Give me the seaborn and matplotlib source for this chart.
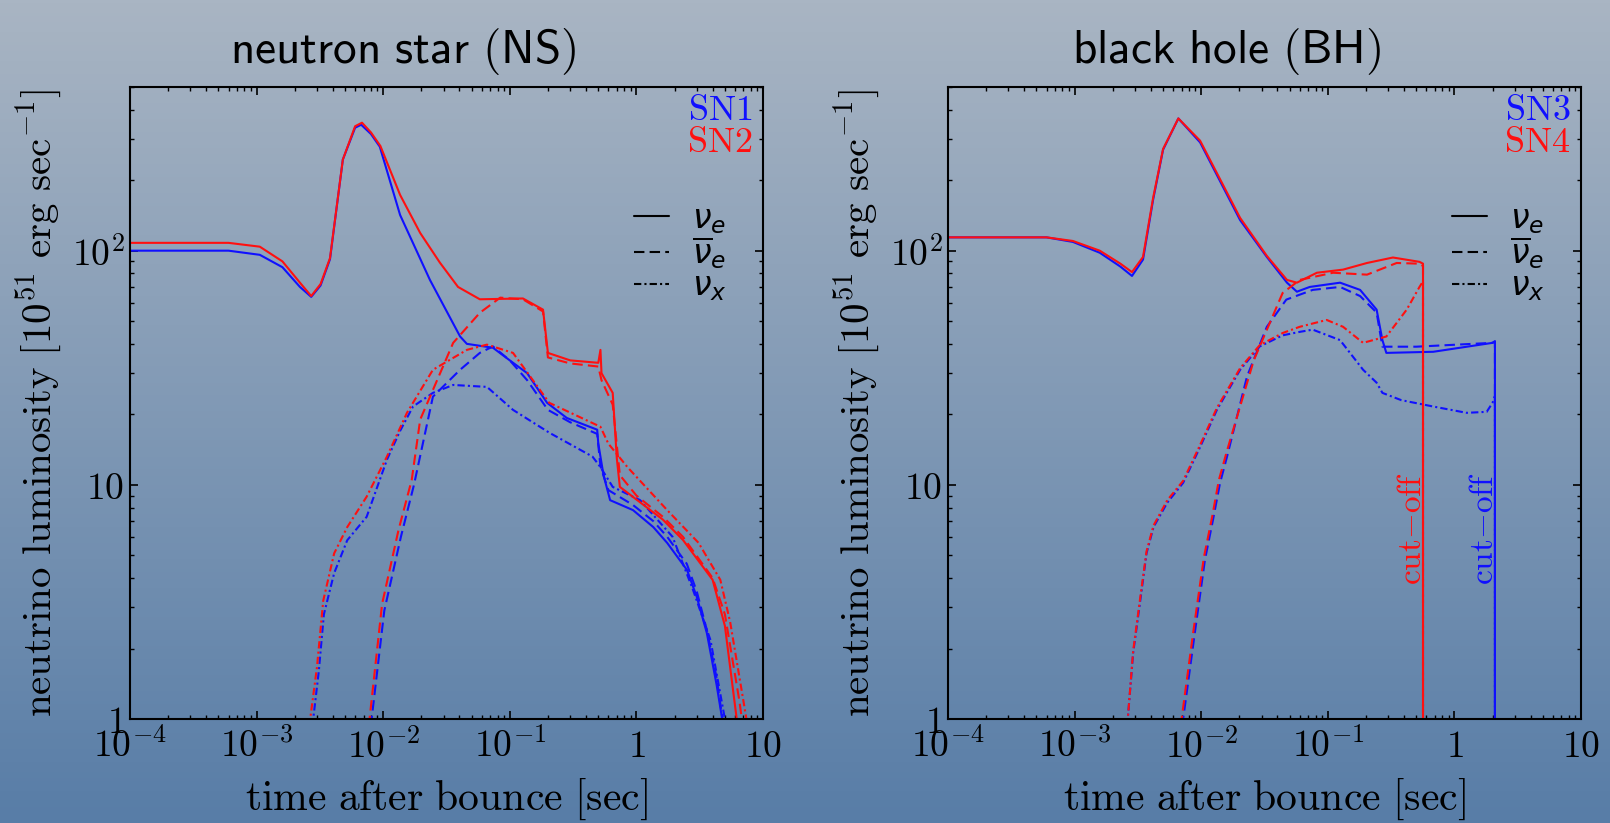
import numpy as np
import pandas as pd
import matplotlib
matplotlib.use("Agg")
import matplotlib.pyplot as plt
from matplotlib.lines import Line2D
from matplotlib.ticker import FixedLocator, FixedFormatter, LogLocator, NullFormatter
import seaborn as sns

# ---------------- neutron star (NS) : SN1 (blue), SN2 (red) ----------------
ns_sn1_nue_t = [1e-4, 6e-4, 1.06e-3, 1.6e-3, 2.2e-3, 2.7e-3, 3.2e-3, 3.8e-3, 4.8e-3, 6e-3, 6.7e-3,
                8e-3, 9.4e-3, 0.0136, 0.0234, 0.0405, 0.0458, 0.0736, 0.1, 0.137, 0.197, 0.282,
                0.49, 0.5, 0.55, 0.62, 0.94, 1.36, 1.75, 2.51, 3.0, 3.6, 4.3, 5.0]
ns_sn1_nue_L = [100, 100, 96, 85, 70, 63.5, 71, 92, 245, 335, 345,
                315, 278, 142, 75, 43, 40, 38.5, 34, 30, 22.4, 19.3,
                17.2, 15, 11, 8.6, 7.8, 6.6, 5.65, 4.33, 3.32, 2.33, 1.4, 0.85]

ns_sn1_anue_t = [7.9e-3, 8.1e-3, 0.0102, 0.0138, 0.0175, 0.0247, 0.0405, 0.058, 0.0736, 0.1,
                 0.137, 0.2, 0.3, 0.49, 0.52, 0.6, 0.94, 1.36, 1.75, 2.5, 3.0, 3.6, 4.3, 5.0]
ns_sn1_anue_L = [0.8, 1.0, 2.9, 6.0, 10.0, 23.8, 31, 36.6, 39, 34,
                 28, 20.9, 18.5, 16.5, 12, 9.5, 8.2, 7.0, 6.0, 4.6, 3.5, 2.4, 1.5, 0.85]

ns_sn1_nux_t = [2.75e-3, 2.8e-3, 3.1e-3, 3.4e-3, 4.1e-3, 5.2e-3, 7.4e-3, 0.0107, 0.0136, 0.0172,
                0.0247, 0.0357, 0.066, 0.106, 0.205, 0.45, 0.52, 0.65, 1.07, 1.93, 2.8, 3.85,
                5.0, 5.2]
ns_sn1_nux_L = [0.8, 1.0, 1.6, 2.8, 4.2, 5.8, 7.3, 12.8, 17.0, 21.6,
                24.7, 26.7, 26.2, 20.9, 16.7, 13.2, 11.9, 9.8, 8.6, 6.0, 3.56, 2.17,
                1.0, 0.8]

ns_sn2_nue_t = [1e-4, 6e-4, 1.06e-3, 1.6e-3, 2.2e-3, 2.7e-3, 3.2e-3, 3.8e-3, 4.8e-3, 6e-3, 6.8e-3,
                8e-3, 9.5e-3, 0.0136, 0.0196, 0.028, 0.039, 0.058, 0.127, 0.183, 0.2, 0.3, 0.5,
                0.52, 0.53, 0.65, 0.7, 0.74, 1.62, 2.33, 4.0, 5.0, 6.2, 6.5]
ns_sn2_nue_L = [108, 108, 104, 90, 73, 64, 72, 93, 245, 340, 352,
                320, 280, 173, 119, 89, 70, 62, 62.5, 56, 36.6, 34, 33.2,
                37.7, 30, 24.7, 13, 9.8, 7.1, 5.82, 3.93, 2.5, 1.0, 0.8]

ns_sn2_anue_t = [7.6e-3, 7.8e-3, 9.8e-3, 0.0132, 0.0168, 0.0196, 0.0357, 0.058, 0.084, 0.127,
                 0.183, 0.2, 0.3, 0.5, 0.53, 0.65, 0.74, 1.0, 1.62, 2.33, 4.0, 5.0, 6.5, 7.2]
ns_sn2_anue_L = [0.8, 1.0, 3.1, 6.4, 10.5, 19, 40.4, 54.3, 63, 62,
                 55, 35, 33, 32, 28, 22, 11, 9.0, 7.3, 6.0, 4.0, 2.8, 1.2, 0.8]

ns_sn2_nux_t = [2.6e-3, 2.65e-3, 3.0e-3, 3.36e-3, 4.1e-3, 5.2e-3, 7.4e-3, 0.0107, 0.0154, 0.0247,
                0.0458, 0.066, 0.106, 0.152, 0.205, 0.52, 0.6, 0.85, 1.75, 3.1, 4.6, 5.5, 7.4, 7.8]
ns_sn2_nux_L = [0.8, 1.0, 1.67, 3.2, 5.1, 6.6, 8.9, 13.2, 20.3, 31,
                37.7, 39.7, 36.6, 28, 22.4, 17.7, 15, 11.9, 7.8, 5.65, 3.93, 2.6, 1.0, 0.8]

# ---------------- black hole (BH) : SN3 (blue), SN4 (red) ----------------
bh_sn3_cut = 2.09
bh_sn4_cut = 0.565

bh_sn3_nue_t = [1e-4, 6e-4, 9.7e-4, 1.58e-3, 2.3e-3, 2.84e-3, 3.47e-3, 4.17e-3, 5.0e-3, 6.6e-3,
                9.8e-3, 0.0203, 0.033, 0.0476, 0.057, 0.072, 0.125, 0.18, 0.243, 0.27, 0.29,
                0.68, 2.0, bh_sn3_cut, bh_sn3_cut]
bh_sn3_nue_L = [114, 114, 109, 98, 85.5, 78, 91.6, 165, 270, 367,
                290, 135, 94, 73, 66.8, 70, 73, 68, 56, 41.5, 36.6,
                37, 40.4, 41, 0.5]

bh_sn3_anue_t = [7.1e-3, 7.2e-3, 8.9e-3, 0.0107, 0.0124, 0.0141, 0.016, 0.023, 0.033, 0.047,
                 0.076, 0.125, 0.18, 0.243, 0.27, 0.5, 2.0, bh_sn3_cut, bh_sn3_cut]
bh_sn3_anue_L = [0.8, 1.0, 2.33, 4.78, 7.1, 10.2, 13.2, 29, 47.3, 61.8,
                 68, 70, 64, 54.4, 38.9, 38.9, 40.4, 41, 0.5]

bh_sn3_nux_t = [2.6e-3, 2.63e-3, 2.9e-3, 3.3e-3, 3.7e-3, 4.2e-3, 5.4e-3, 7.2e-3, 9.8e-3, 0.0133,
                0.0203, 0.029, 0.044, 0.06, 0.076, 0.125, 0.19, 0.243, 0.27, 0.38, 0.68, 1.25,
                1.8, 2.0, bh_sn3_cut, bh_sn3_cut]
bh_sn3_nux_L = [0.8, 1.0, 1.91, 3.2, 5.1, 6.6, 8.4, 10.2, 14.5, 20.9,
                31, 39, 43.5, 45, 46, 41.5, 31, 27.3, 24.7, 23, 21.6, 20.3,
                20.5, 22.4, 24, 0.5]

bh_sn4_nue_t = [1e-4, 6e-4, 9.7e-4, 1.58e-3, 2.3e-3, 2.84e-3, 3.47e-3, 4.17e-3, 5.0e-3, 6.6e-3,
                9.8e-3, 0.0203, 0.033, 0.0476, 0.057, 0.082, 0.132, 0.204, 0.327, 0.53,
                bh_sn4_cut, bh_sn4_cut]
bh_sn4_nue_L = [114, 114, 110, 100, 88, 81, 94, 168, 272, 367,
                295, 138, 95, 75, 73, 80.5, 83, 88.6, 93.5, 89.6,
                88, 0.5]

bh_sn4_anue_t = [6.9e-3, 7.0e-3, 8.7e-3, 0.0105, 0.0122, 0.0138, 0.016, 0.026, 0.044, 0.06,
                 0.11, 0.204, 0.35, 0.53, bh_sn4_cut, bh_sn4_cut]
bh_sn4_anue_L = [0.8, 1.0, 2.4, 4.9, 7.3, 10.5, 14, 34, 66, 75,
                 80.5, 79, 88.6, 88, 86, 0.5]

bh_sn4_nux_t = [2.6e-3, 2.63e-3, 2.9e-3, 3.3e-3, 3.7e-3, 4.2e-3, 5.4e-3, 7.2e-3, 9.8e-3, 0.0133,
                0.0203, 0.029, 0.044, 0.06, 0.098, 0.132, 0.19, 0.29, 0.42, 0.53,
                bh_sn4_cut, bh_sn4_cut]
bh_sn4_nux_L = [0.8, 1.0, 1.95, 3.3, 5.2, 6.7, 8.6, 10.4, 14.8, 21.3,
                31.5, 39.5, 44.5, 47.3, 50.6, 47.3, 40.4, 43, 56, 70,
                74, 0.5]

# ---------------- axis ticks ----------------
x_ticks = [1e-4, 1e-3, 1e-2, 1e-1, 1, 10]
x_tick_labels = [r"$10^{-4}$", r"$10^{-3}$", r"$10^{-2}$", r"$10^{-1}$", r"$1$", r"$10$"]
y_ticks = [1, 10, 100]
y_tick_labels = [r"$1$", r"$10$", r"$10^{2}$"]

panel_titles = {"NS": "neutron star (NS)", "BH": "black hole (BH)"}
flavor_labels = {"nue": r"$\mathit{\nu}_e$",
                 "anue": r"$\overline{\mathit{\nu}}_e$",
                 "nux": r"$\mathit{\nu}_x$"}


def long_form(panel, model, flavor, t, L):
    return pd.DataFrame({"panel": panel, "model": model, "flavor": flavor, "t": t, "L": L})


frames = [
    long_form("NS", "SN1", "nue", ns_sn1_nue_t, ns_sn1_nue_L),
    long_form("NS", "SN1", "anue", ns_sn1_anue_t, ns_sn1_anue_L),
    long_form("NS", "SN1", "nux", ns_sn1_nux_t, ns_sn1_nux_L),
    long_form("NS", "SN2", "nue", ns_sn2_nue_t, ns_sn2_nue_L),
    long_form("NS", "SN2", "anue", ns_sn2_anue_t, ns_sn2_anue_L),
    long_form("NS", "SN2", "nux", ns_sn2_nux_t, ns_sn2_nux_L),
    long_form("BH", "SN3", "nue", bh_sn3_nue_t, bh_sn3_nue_L),
    long_form("BH", "SN3", "anue", bh_sn3_anue_t, bh_sn3_anue_L),
    long_form("BH", "SN3", "nux", bh_sn3_nux_t, bh_sn3_nux_L),
    long_form("BH", "SN4", "nue", bh_sn4_nue_t, bh_sn4_nue_L),
    long_form("BH", "SN4", "anue", bh_sn4_anue_t, bh_sn4_anue_L),
    long_form("BH", "SN4", "nux", bh_sn4_nux_t, bh_sn4_nux_L),
]
df = pd.concat(frames, ignore_index=True)

# ---------------- style ----------------
sns.set_theme(style="ticks")
plt.rcParams.update({
    "mathtext.fontset": "cm",
    "font.family": ["DejaVu Sans"],
    "text.color": "black",
    "axes.labelcolor": "black",
    "axes.linewidth": 1.5,
    "axes.edgecolor": "black",
    "axes.facecolor": "none",
    "xtick.direction": "in",
    "ytick.direction": "in",
    "xtick.top": True,
    "ytick.right": True,
    "xtick.major.size": 6,
    "ytick.major.size": 6,
    "xtick.minor.size": 3,
    "ytick.minor.size": 3,
    "xtick.major.width": 1.2,
    "ytick.major.width": 1.2,
    "xtick.minor.width": 1.0,
    "ytick.minor.width": 1.0,
    "xtick.color": "black",
    "ytick.color": "black",
    "xtick.labelcolor": "black",
    "ytick.labelcolor": "black",
})

palette = {"SN1": "#1010ff", "SN2": "#ff1010", "SN3": "#1010ff", "SN4": "#ff1010"}
dashes = {"nue": "", "anue": (5, 2.5), "nux": (3.5, 1.5, 1, 1.5)}

W, H = 1610, 823
fig = plt.figure(figsize=(W / 100, H / 100), dpi=100)

# vertical background gradient
bg = fig.add_axes([0, 0, 1, 1], zorder=-10)
top_rgb = np.array([0xa9, 0xb5, 0xc3]) / 255
bot_rgb = np.array([0x58, 0x7d, 0xa7]) / 255
frac = np.linspace(0, 1, 256)[:, None]
grad = top_rgb[None, :] * (1 - frac) + bot_rgb[None, :] * frac
bg.imshow(grad[:, None, :], aspect="auto", extent=[0, 1, 0, 1])
bg.set_axis_off()

ax_left_px = {"NS": 130, "BH": 948}
title_center_px = {"NS": 403, "BH": 1227}
ax_w_px, ax_top_px, ax_bot_px = 633, 87, 719
model_names = {"NS": ("SN1", "SN2"), "BH": ("SN3", "SN4")}

axes = {}
for panel in ["NS", "BH"]:
    ax = fig.add_axes([ax_left_px[panel] / W, (H - ax_bot_px) / H,
                       ax_w_px / W, (ax_bot_px - ax_top_px) / H])
    ax.set_facecolor("none")
    sub = df[df["panel"] == panel]
    sns.lineplot(data=sub, x="t", y="L", hue="model", style="flavor",
                 palette={k: palette[k] for k in model_names[panel]},
                 dashes=dashes, style_order=["nue", "anue", "nux"],
                 estimator=None, sort=False, linewidth=1.5, legend=False, ax=ax)
    ax.set_xscale("log")
    ax.set_yscale("log")
    ax.set_xlim(1e-4, 10)
    ax.set_ylim(1, 500)

    ax.xaxis.set_major_locator(FixedLocator(x_ticks))
    ax.xaxis.set_major_formatter(FixedFormatter(x_tick_labels))
    ax.yaxis.set_major_locator(FixedLocator(y_ticks))
    ax.yaxis.set_major_formatter(FixedFormatter(y_tick_labels))
    ax.xaxis.set_minor_locator(LogLocator(base=10, subs=np.arange(2, 10), numticks=30))
    ax.yaxis.set_minor_locator(LogLocator(base=10, subs=np.arange(2, 10), numticks=30))
    ax.xaxis.set_minor_formatter(NullFormatter())
    ax.yaxis.set_minor_formatter(NullFormatter())
    ax.tick_params(axis="x", which="major", labelsize=27, pad=7)
    ax.tick_params(axis="y", which="major", labelsize=27, pad=4)
    for s in ax.spines.values():
        s.set_visible(True)
        s.set_linewidth(1.5)

    ax.set_xlabel(r"$\mathrm{time\ after\ bounce\ [sec]}$", fontsize=30, labelpad=8)
    ax.set_ylabel(r"$\mathrm{neutrino\ luminosity\ [10^{51}\ erg\ sec^{-1}]}$",
                  fontsize=29.5, labelpad=6)

    # model names, top right
    m_blue, m_red = model_names[panel]
    ax.text(0.983, 0.964, r"$\mathrm{%s}$" % m_blue, color=palette[m_blue],
            transform=ax.transAxes, ha="right", va="center", fontsize=26)
    ax.text(0.983, 0.913, r"$\mathrm{%s}$" % m_red, color=palette[m_red],
            transform=ax.transAxes, ha="right", va="center", fontsize=26)

    # flavour line-style key
    handles = [Line2D([], [], color="black", lw=1.5, dashes=dashes[f] if dashes[f] else (None, None))
               for f in ["nue", "anue", "nux"]]
    handles[0].set_linestyle("-")
    leg = ax.legend(handles, [flavor_labels[f] for f in ["nue", "anue", "nux"]],
                    loc="upper left", bbox_to_anchor=(0.796, 0.818), frameon=False,
                    fontsize=24, handlelength=1.05, handletextpad=0.7,
                    labelspacing=-0.05, borderpad=0, borderaxespad=0)
    for txt in leg.get_texts():
        txt.set_math_fontfamily("dejavusans")
        txt.set_color("black")

    # panel title
    fig.text(title_center_px[panel] / W, (H - 63) / H,
             r"$\mathsf{%s}$" % panel_titles[panel].replace(" ", r"\ "),
             ha="center", va="baseline", fontsize=34)
    axes[panel] = ax

# cut-off markers in the BH panel
axb = axes["BH"]
for t_cut, model in [(bh_sn4_cut, "SN4"), (bh_sn3_cut, "SN3")]:
    axb.annotate(r"$\mathrm{cut{-}off}$", xy=(t_cut, 6.5), xytext=(3.3, 0),
                 textcoords="offset points", rotation=90, ha="right", va="center",
                 color=palette[model], fontsize=24)

fig.savefig("out.png", dpi=100)
